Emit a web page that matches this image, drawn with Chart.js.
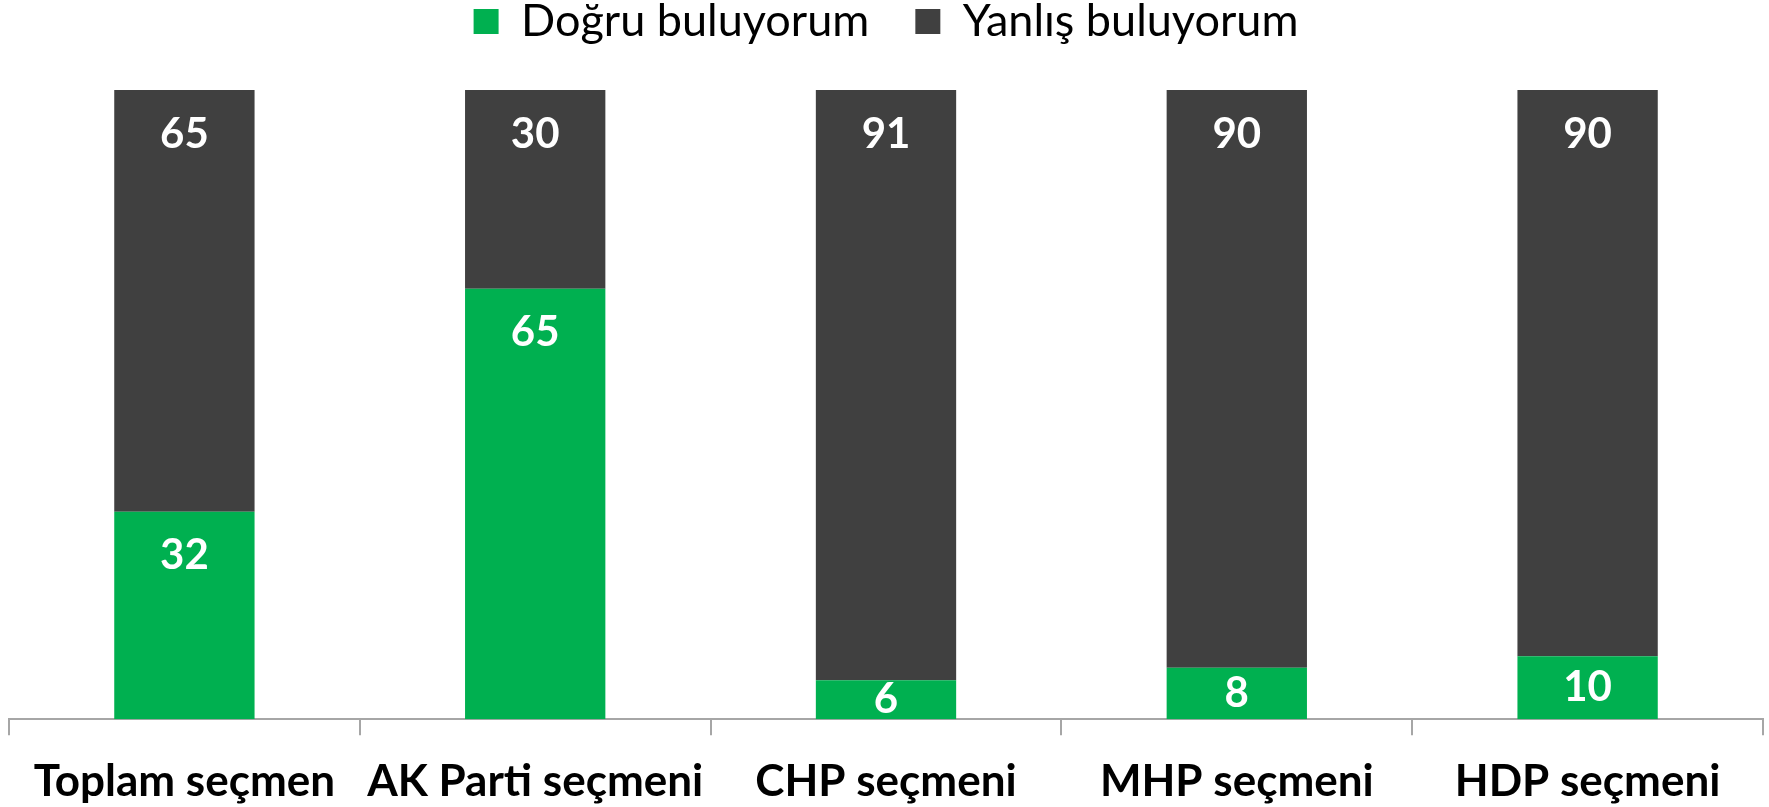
<!DOCTYPE html>
<html>
<head>
<meta charset="utf-8">
<script src="https://cdn.jsdelivr.net/npm/chart.js@4.4.1/dist/chart.umd.min.js"></script>
<style>
  html, body { margin: 0; padding: 0; background: #fff; }
  #wrap { width: 1769px; height: 807px; }
</style>
</head>
<body>
<div id="wrap"><canvas id="chart" width="1769" height="807"></canvas></div>
<script>
// Data
const categories = ['Toplam seçmen', 'AK Parti seçmeni', 'CHP seçmeni', 'MHP seçmeni', 'HDP seçmeni'];
const dogru = [32, 65, 6, 8, 10];
const yanlis = [65, 30, 91, 90, 90];
const seriesNames = ['Doğru buluyorum', 'Yanlış buluyorum'];

const GREEN = '#00B050';
const DARK = '#404040';
const FONT = 'Lato';

// 100% stacked: every bar fills the full height
function share(a, b) {
  return a.map((v, i) => v / (a[i] + b[i]) * 100);
}

// Legend: wider gap between items, keep bars low enough
const legendSpacing = {
  id: 'legendSpacing',
  beforeInit(chart) {
    const fit = chart.legend.fit;
    chart.legend.fit = function () {
      fit.bind(chart.legend)();
      this.height = 137;
    };
  }
};

// White value labels near the top of each segment
const valueLabels = {
  id: 'valueLabels',
  afterDatasetsDraw(chart) {
    const ctx = chart.ctx;
    const raw = [dogru, yanlis];
    ctx.save();
    ctx.font = 'bold 42px ' + FONT;
    ctx.fillStyle = '#fff';
    ctx.textAlign = 'center';
    ctx.textBaseline = 'middle';
    chart.data.datasets.forEach((ds, di) => {
      chart.getDatasetMeta(di).data.forEach((bar, i) => {
        const top = bar.y, bottom = bar.base;
        const y = Math.min(top + 44, (top + bottom) / 2);
        ctx.fillText(String(raw[di][i]), bar.x, y);
      });
    });
    ctx.restore();
  }
};

function draw() {
  new Chart(document.getElementById('chart'), {
    type: 'bar',
    data: {
      labels: categories,
      datasets: [
        { label: seriesNames[0], data: share(dogru, yanlis), backgroundColor: GREEN },
        { label: seriesNames[1], data: share(yanlis, dogru), backgroundColor: DARK }
      ]
    },
    options: {
      responsive: false,
      devicePixelRatio: 1,
      animation: false,
      layout: { padding: { top: -47, left: 9, right: 6, bottom: -21 } },
      datasets: { bar: { categoryPercentage: 1, barPercentage: 0.4 } },
      plugins: {
        tooltip: { enabled: false },
        legend: {
          position: 'top',
          labels: {
            boxWidth: 25,
            boxHeight: 25,
            padding: 46,
            color: '#000',
            font: { family: FONT, size: 45 }
          }
        }
      },
      scales: {
        x: {
          stacked: true,
          grid: {
            display: true,
            drawOnChartArea: false,
            drawTicks: true,
            tickLength: 16,
            color: '#A6A6A6',
            lineWidth: 2
          },
          border: { display: true, color: '#A6A6A6', width: 2 },
          ticks: {
            color: '#000',
            padding: 20,
            maxRotation: 0,
            font: { family: FONT, size: 44, weight: 'bold' }
          }
        },
        y: {
          stacked: true,
          display: false,
          min: 0,
          max: 100
        }
      }
    },
    plugins: [legendSpacing, valueLabels]
  });
}

Promise.all([
  document.fonts.load('45px ' + FONT),
  document.fonts.load('bold 44px ' + FONT)
]).then(draw, draw);
</script>
</body>
</html>
